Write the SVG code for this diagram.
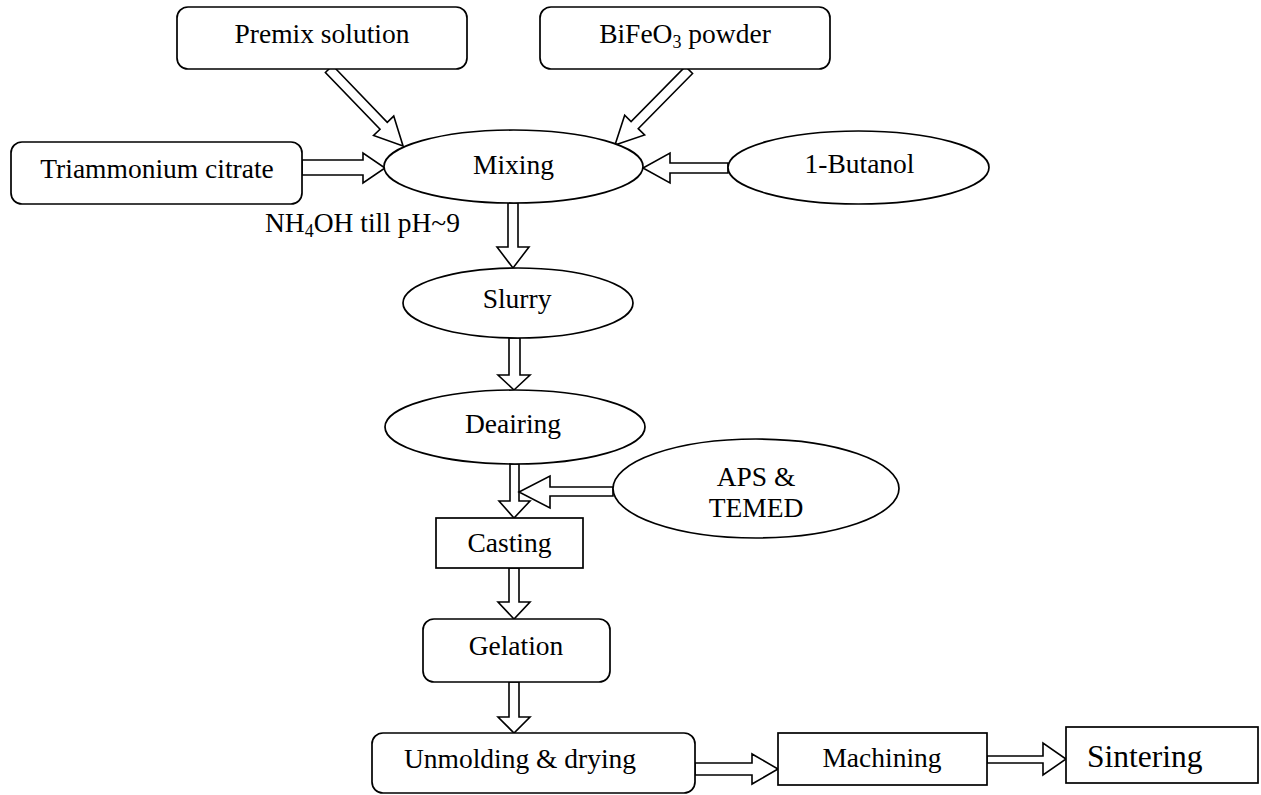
<svg xmlns="http://www.w3.org/2000/svg" width="1261" height="795" viewBox="0 0 1261 795">
<style>
.shape{fill:#fff;stroke:#000;stroke-width:1.7}
.arrow{fill:#fff;stroke:#000;stroke-width:1.6;stroke-linejoin:miter}
text{font-family:"Liberation Serif","Times New Roman",serif;font-size:27.5px;fill:#000}
.c{text-anchor:middle}
.sub{font-size:18px}
</style>
<rect x="0" y="0" width="1261" height="795" fill="#fff"/>
<g id="connectors">
<path class="arrow" transform="translate(329,69) rotate(46.1)" d="M0,-5 H78.8 V-14 L106.8,0 L78.8,14 V5 H0 Z"/>
<path class="arrow" transform="translate(689,70) rotate(134.6)" d="M0,-5 H77.4 V-14 L105.4,0 L77.4,14 V5 H0 Z"/>
<path class="arrow" d="M302,160 H363 V153 L385,168 L363,183 V175 H302 Z"/>
<path class="arrow" d="M728,163 H670 V153 L643,168 L670,183 V173 H728 Z"/>
<path class="arrow" d="M508,203 V247 H497 L513,268 L529,247 H518 V203 Z"/>
<path class="arrow" d="M509,338 V375 H498 L514,390 L530,375 H520 V338 Z"/>
<path class="arrow" d="M510,464 V501 H499 L514,518 L530,501 H519 V464 Z"/>
<path class="arrow" d="M613,487 H550 V476 L519,492 L550,508 V496 H613 Z"/>
<path class="arrow" d="M509,568 V602 H498 L514,619 L530,602 H519 V568 Z"/>
<path class="arrow" d="M509,682 V717 H498 L514,733 L530,717 H519 V682 Z"/>
<path class="arrow" d="M695,763 H752 V754 L778,769 L752,784 V775 H695 Z"/>
<path class="arrow" d="M987,756 H1043 V743 L1066,759 L1043,775 V763 H987 Z"/>
</g>
<g id="premix">
<rect class="shape" x="177" y="7" width="290" height="62" rx="11"/>
<text class="c" x="322" y="43">Premix solution</text>
</g>
<g id="bifeo3">
<rect class="shape" x="540" y="7" width="290" height="62" rx="11"/>
<text class="c" x="685" y="43">BiFeO<tspan class="sub" dy="5">3</tspan><tspan dy="-5"> powder</tspan></text>
</g>
<g id="triammonium">
<rect class="shape" x="11" y="142" width="291" height="62" rx="11"/>
<text class="c" x="157" y="178">Triammonium citrate</text>
</g>
<g id="nh4oh">
<text x="265" y="232">NH<tspan class="sub" dy="5">4</tspan><tspan dy="-5">OH till pH~9</tspan></text>
</g>
<g id="mixing">
<ellipse class="shape" cx="513.5" cy="166.5" rx="129.5" ry="36.5"/>
<text class="c" x="513.5" y="174">Mixing</text>
</g>
<g id="butanol">
<ellipse class="shape" cx="858.5" cy="167.5" rx="130.5" ry="36.5"/>
<text class="c" x="859.5" y="173">1-Butanol</text>
</g>
<g id="slurry">
<ellipse class="shape" cx="518" cy="303" rx="115" ry="35"/>
<text class="c" x="517" y="308">Slurry</text>
</g>
<g id="deairing">
<ellipse class="shape" cx="515" cy="427" rx="130" ry="37"/>
<text class="c" x="513" y="433">Deairing</text>
</g>
<g id="aps">
<ellipse class="shape" cx="756" cy="488.5" rx="143" ry="49.5"/>
<text class="c" x="756" y="486">APS &amp;</text>
<text class="c" x="756" y="517">TEMED</text>
</g>
<g id="casting">
<rect class="shape" x="436" y="518" width="147" height="50"/>
<text class="c" x="509.5" y="552">Casting</text>
</g>
<g id="gelation">
<rect class="shape" x="423" y="619" width="187" height="63" rx="11"/>
<text class="c" x="516" y="655">Gelation</text>
</g>
<g id="unmolding">
<rect class="shape" x="372" y="733" width="323" height="60" rx="11"/>
<text class="c" x="520" y="768">Unmolding &amp; drying</text>
</g>
<g id="machining">
<rect class="shape" x="778" y="733" width="209" height="52"/>
<text class="c" x="882" y="767">Machining</text>
</g>
<g id="sintering">
<rect class="shape" x="1066" y="727" width="192" height="56"/>
<text x="1087" y="767" style="font-size:31.5px">Sintering</text>
</g>
</svg>
